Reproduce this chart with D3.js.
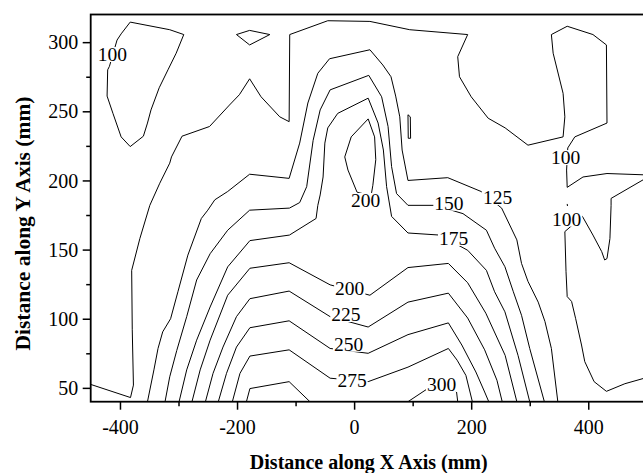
<!DOCTYPE html>
<html>
<head>
<meta charset="utf-8">
<script src="https://cdn.jsdelivr.net/npm/d3@7"></script>
<style>
  body { margin: 0; background: #fff; }
  svg { display: block; font-family: "Times New Roman", "Liberation Serif", serif; }
  .contour { fill: none; stroke: #000; stroke-width: 1; stroke-linejoin: round; }
  .frame { fill: none; stroke: #000; stroke-width: 1.8; }
  .axis .domain { display: none; }
  .axis .tick line { stroke: #000; stroke-width: 1.5; }
  .axis .tick text { font-size: 20px; fill: #000; font-family: "Times New Roman", "Liberation Serif", serif; }
  .contour-label { font-size: 19.5px; fill: #000; }
  .axis-title { font-size: 20px; font-weight: bold; fill: #000; }
</style>
</head>
<body>
<svg id="chart" width="643" height="473"></svg>
<script>
// ---------------------------------------------------------------------------
// Data (mm)

const levels = [100, 125, 150, 175, 200, 225, 250, 275, 300];

const xTicks = [-400, -200, 0, 200, 400];
const xMinorTicks = [-300, -100, 100, 300];
const yTicks = [50, 100, 150, 200, 250, 300];
const yMinorTicks = [75, 125, 175, 225, 275];

// isolines, one array of polylines per level: [x, y]
const iso100 = [
  [[-450, 52.5], [-382, 43], [-377, 52], [-379, 92], [-380, 135], [-366, 158], [-349, 182],
   [-332, 198], [-315, 212.5], [-312, 217], [-294, 232], [-247, 239], [-213, 254.5],
   [-196, 262], [-178.5, 273.5], [-159, 260.5], [-127, 246], [-111, 242.5], [-110, 305.5],
   [-45, 315.5], [27, 315], [95, 309], [194, 305.5], [177, 289.5], [180, 275], [200, 260.5],
   [229, 245], [258, 238], [297, 225.5], [357, 231.5], [360, 246], [357, 263], [340, 292],
   [337, 305.5], [364, 311.5], [408, 305.5], [431, 298], [432, 241.5], [377, 231.5],
   [365, 223.5], [363, 207.5], [364, 195], [391, 202.5], [432, 205], [500, 204]],
  [[-382.5, 314.5], [-315, 309], [-291, 305.5], [-304, 292], [-318, 280], [-333, 267],
   [-347, 251], [-353, 241.5], [-360, 232], [-382.5, 224.5], [-398, 231.5], [-412, 248.5],
   [-422, 261], [-421, 280], [-418, 282.5], [-405, 301.5], [-398, 306], [-382.5, 314.5]],
  [[-201, 305.5], [-178.5, 308.5], [-144, 305.5], [-178.5, 298], [-201, 305.5]],
  [[92, 247.5], [96, 246], [96.5, 230.5], [92.5, 230.5], [92, 247.5]],
  [[500, 202], [439, 187], [439, 182], [437, 158], [432, 143.5], [428, 142.5], [423, 148.5],
   [408, 160.5], [390, 174], [360, 163], [362, 134], [364, 116], [371.5, 112.5], [378.5, 100],
   [388.5, 81], [394, 69], [410, 54.5], [431, 47.5], [462.5, 53], [500, 57.5]],
  [[364, 183], [364.5, 181.5]]
];

const iso125 = [
  [[-353, 40], [-342, 63], [-335, 78.5], [-327, 90.5], [-313.5, 100], [-301, 119.5],
   [-284, 146], [-261, 172.5], [-250, 178.5], [-238, 186], [-216, 192], [-178.5, 204.5],
   [-111, 201.5], [-93, 227], [-79, 256], [-62, 277.5], [-42, 288], [27, 294.5], [49, 283.5],
   [63, 275], [71, 261], [78, 246], [82, 222], [92, 200], [160, 202], [217, 192], [252, 180],
   [278, 157], [286, 140], [297, 127], [314.5, 112], [326, 98], [337, 78.5], [348, 40]]
];

const iso150 = [
  [[-323, 40], [-315, 58], [-303, 77], [-286, 101.5], [-269, 128], [-246, 147], [-216, 164],
   [-178.5, 178.5], [-110.5, 180], [-93, 184], [-81, 195.5], [-70, 229], [-58, 251],
   [-41, 265.5], [25, 276], [47, 260.5], [58, 239], [64, 210], [72.5, 190.5], [92, 182],
   [138, 182], [186, 176], [226, 164], [240, 151], [257.6, 137.6], [272, 119.5],
   [286, 102.5], [300, 78.5], [325, 40]]
];

const iso175 = [
  [[-299, 40], [-286, 63], [-269, 84.5], [-246, 108.5], [-216, 137.5], [-178, 156.5],
   [-110.5, 160.5], [-65, 172.5], [-62, 182], [-58, 189.5], [-53, 202.5], [-50, 227],
   [-45, 238], [-28, 248.5], [24, 259.5], [41, 241.5], [50, 222], [55.5, 195.5], [64, 174],
   [92, 162], [146, 160.5], [194, 149.5], [226, 135], [240, 119.5], [257.6, 105],
   [280, 73.5], [300, 40]]
];

const iso200 = [
  [[-277, 40], [-263, 63], [-246, 84.5], [-216, 117], [-178, 136.5], [-111, 140.5],
   [-41, 124.5], [27, 117], [92, 137], [161, 140], [194, 126], [225, 104], [258, 73.5],
   [278, 40]],
  [[24, 244.5], [35, 231.5], [37, 215], [32, 196.5], [29, 189], [5, 191.5], [-10.5, 207.5],
   [-16, 217], [-5, 231.5], [24, 244.5]]
];

const iso225 = [
  [[-254, 40], [-241, 60.5], [-224, 79.5], [-201, 101.5], [-178, 114.5], [-111, 120],
   [-41, 101.5], [24, 94], [92, 112], [161, 118.5], [194, 100.5], [223, 77.5], [244, 55.5],
   [253, 40]]
];

const iso250 = [
  [[-232, 40], [-218, 60.5], [-201, 79.5], [-178, 93.5], [-111, 98.5], [-41, 78.5],
   [24, 75], [92, 88.5], [161, 97], [184, 81], [208, 61.5], [223, 47], [230, 40]]
];

const iso275 = [
  [[-208, 40], [-195, 60.5], [-178, 73], [-111, 77.5], [-41, 57], [24, 54.5], [92, 65],
   [161, 78.5], [176, 70], [191, 59], [202, 40]]
];

const iso300 = [
  [[-184, 40], [-178, 49.5], [-111, 54.5], [-75.5, 40]],
  [[92, 40], [124, 49], [150, 55.5], [175, 47], [177, 40]]
];

// contour labels: [x, y, level]
const contourLabels = [
  [-413, 291, 100], [361.5, 216.5, 100], [363, 172, 100],
  [19.5, 185.5, 200], [162, 183.5, 150], [245, 187.5, 125], [170, 158, 175],
  [-7.5, 122, 200], [-14, 103, 225], [-9.5, 81.5, 250], [-3.5, 55.5, 275], [149.5, 52.5, 300]
];

// ---------------------------------------------------------------------------
// Layout

const margin = { left: 90.7, top: 14.5, bottom: 71.3 };
const plotWidth = 556.1;
const svg = d3.select('#chart');
const height = +svg.attr('height');

const x = d3.scaleLinear().domain([-450, 500]).range([margin.left, margin.left + plotWidth]);
const y = d3.scaleLinear().domain([40, 320]).range([height - margin.bottom, margin.top]);

svg.append('defs').append('clipPath').attr('id', 'plot-clip')
  .append('rect')
  .attr('x', x.range()[0]).attr('y', y.range()[1])
  .attr('width', plotWidth).attr('height', y.range()[0] - y.range()[1]);

// ---------------------------------------------------------------------------
// Contour lines

const isolines = [iso100, iso125, iso150, iso175, iso200, iso225, iso250, iso275, iso300];
const paths = [];
isolines.forEach((set, i) => set.forEach(points => paths.push({ level: levels[i], points })));

const line = d3.line().x(d => x(d[0])).y(d => y(d[1]));

const plot = svg.append('g').attr('clip-path', 'url(#plot-clip)');
plot.selectAll('path.contour')
  .data(paths)
  .join('path')
  .attr('class', d => `contour level-${d.level}`)
  .attr('d', d => line(d.points));

// labels sit on a white patch so the isoline is broken under them
const labelGroup = plot.append('g');
contourLabels.forEach(d => {
  const g = labelGroup.append('g');
  const bg = g.append('rect').attr('fill', '#fff');
  const t = g.append('text')
    .attr('class', 'contour-label')
    .attr('x', x(d[0]))
    .attr('y', y(d[1]))
    .attr('dy', '0.33em')
    .attr('text-anchor', 'middle')
    .text(d[2]);
  const b = t.node().getBBox();
  bg.attr('x', b.x - 1).attr('y', b.y + 3).attr('width', b.width + 2).attr('height', b.height - 6);
});

// ---------------------------------------------------------------------------
// Axes and frame

const plain = d => String(d); // hyphen minus, as in the original

const xAxisY = y.range()[0];
svg.append('g')
  .attr('class', 'axis x-major')
  .attr('transform', `translate(0,${xAxisY})`)
  .call(d3.axisBottom(x).tickValues(xTicks).tickSize(8).tickPadding(10).tickFormat(plain));
svg.append('g')
  .attr('class', 'axis')
  .attr('transform', `translate(0,${xAxisY})`)
  .call(d3.axisBottom(x).tickValues(xMinorTicks).tickSize(4.5).tickFormat(''));

svg.append('g')
  .attr('class', 'axis y-major')
  .attr('transform', `translate(${x.range()[0]},0)`)
  .call(d3.axisLeft(y).tickValues(yTicks).tickSize(8).tickPadding(4.4).tickFormat(plain));
svg.append('g')
  .attr('class', 'axis')
  .attr('transform', `translate(${x.range()[0]},0)`)
  .call(d3.axisLeft(y).tickValues(yMinorTicks).tickSize(4.5).tickFormat(''));

svg.selectAll('.x-major .tick text').attr('dy', '0.71em');
svg.selectAll('.y-major .tick text').attr('dy', '0.33em');

svg.append('rect')
  .attr('class', 'frame')
  .attr('x', x.range()[0]).attr('y', y.range()[1])
  .attr('width', plotWidth).attr('height', y.range()[0] - y.range()[1]);

svg.append('text')
  .attr('class', 'axis-title')
  .attr('x', (x.range()[0] + x.range()[1]) / 2)
  .attr('y', 469)
  .attr('text-anchor', 'middle')
  .text('Distance along X Axis (mm)');

svg.append('text')
  .attr('class', 'axis-title')
  .attr('transform', 'translate(29.5,223.5) rotate(-90)')
  .attr('text-anchor', 'middle')
  .style('font-size', '21.5px')
  .text('Distance along Y Axis (mm)');
</script>
</body>
</html>
